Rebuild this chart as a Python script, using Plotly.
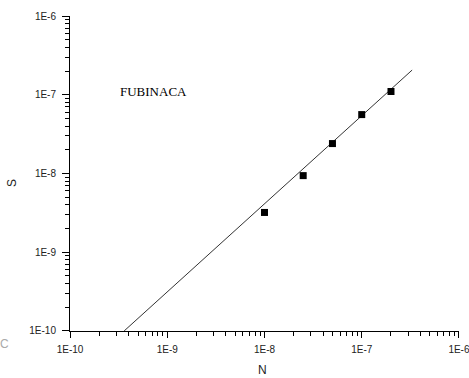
import plotly.graph_objects as go

# data
n_vals = [1.0e-8, 2.5e-8, 5.0e-8, 1.0e-7, 2.0e-7]
s_vals = [3.2e-9, 9.4e-9, 2.4e-8, 5.6e-8, 1.1e-7]
fit_n = [3.6e-10, 3.3e-7]
fit_s = [1.0e-10, 2.06e-7]
tick_vals = [1e-10, 1e-9, 1e-8, 1e-7, 1e-6]
tick_text = ["1E-10", "1E-9", "1E-8", "1E-7", "1E-6"]
minor_vals = [m * 10.0 ** e for e in range(-10, -6) for m in range(2, 10)]

fig = go.Figure()
fig.add_trace(go.Scatter(x=fit_n, y=fit_s, mode="lines",
                         line=dict(color="#333333", width=1), showlegend=False,
                         hoverinfo="skip"))
fig.add_trace(go.Scatter(x=n_vals, y=s_vals, mode="markers",
                         marker=dict(symbol="square", size=7, color="black"),
                         showlegend=False))

def axis_common(standoff, major_len):
    return dict(
        type="log", range=[-10.0005, -5.9995], showgrid=False, zeroline=False,
        showline=True, linecolor="black", linewidth=1, mirror=False,
        ticks="outside", ticklen=major_len, tickwidth=1, tickcolor="black",
        tickmode="array", tickvals=tick_vals, ticktext=tick_text,
        ticklabelstandoff=standoff, ticklabeloverflow="allow", automargin=False,
        tickfont=dict(family="Liberation Sans, Arial, sans-serif", size=10, color="#222222"),
        minor=dict(ticks="outside", ticklen=4, tickwidth=1, tickcolor="black",
                   tickmode="array", tickvals=minor_vals, showgrid=False),
    )

fig.update_layout(
    width=469, height=378,
    margin=dict(l=70, r=10, t=16, b=47),
    paper_bgcolor="white", plot_bgcolor="white",
    xaxis=axis_common(3, 6),
    yaxis=axis_common(4, 7),
    annotations=[
        dict(text="FUBINACA", x=0.2134, y=0.759, xref="paper", yref="paper",
             xanchor="center", yanchor="middle",
             showarrow=False, font=dict(family="Liberation Serif, Times New Roman, serif", size=13, color="black")),
        dict(text="N", x=0.4936, y=-0.125, xref="paper", yref="paper",
             xanchor="center", yanchor="middle",
             showarrow=False, font=dict(family="Liberation Sans, Arial, sans-serif", size=12, color="#222222")),
        dict(text="S", x=-0.149, y=0.47, xref="paper", yref="paper", textangle=-90,
             xanchor="center", yanchor="middle",
             showarrow=False, font=dict(family="Liberation Sans, Arial, sans-serif", size=12, color="#222222")),
        dict(text="C", x=-0.168, y=-0.04, xref="paper", yref="paper",
             xanchor="center", yanchor="middle",
             showarrow=False, font=dict(family="Liberation Sans, Arial, sans-serif", size=12, color="#aaaaaa")),
    ],
)

fig.write_html("out.html")
